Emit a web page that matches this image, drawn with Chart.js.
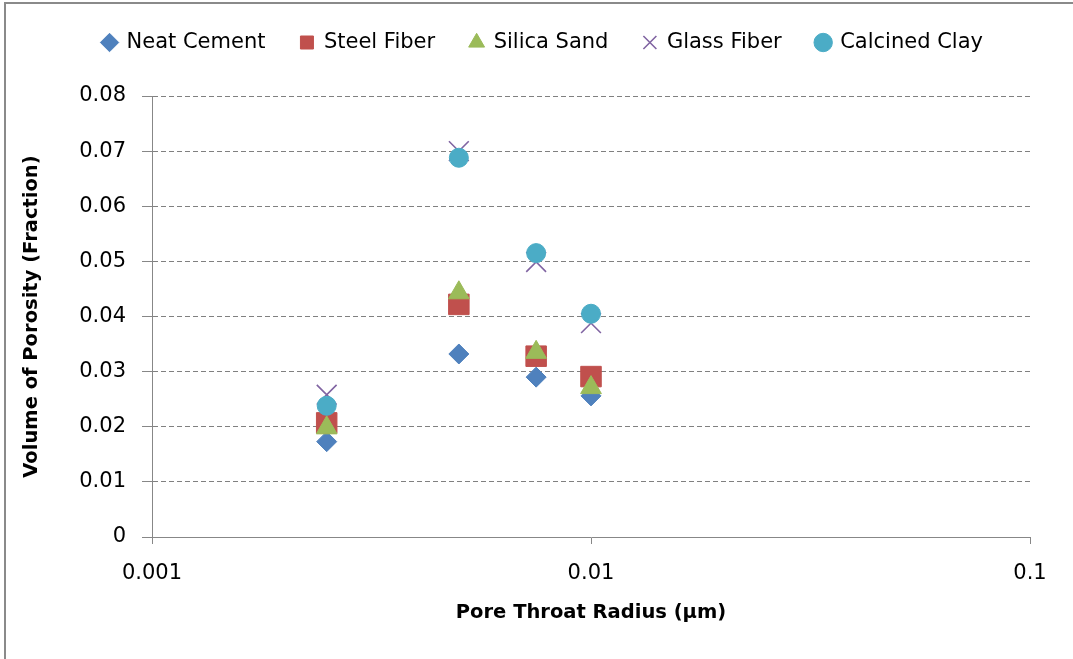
<!DOCTYPE html>
<html>
<head>
<meta charset="utf-8">
<title>Volume of Porosity vs Pore Throat Radius</title>
<script src="https://cdn.jsdelivr.net/npm/chart.js@4.4.1/dist/chart.umd.min.js"></script>
<style>
  html, body { margin: 0; padding: 0; background: #fff; overflow: hidden; }
  #wrap { width: 1073px; height: 659px; position: relative; }
</style>
</head>
<body>
<div id="wrap"><canvas id="chart" width="1073" height="659"></canvas></div>
<script>
// Pore throat radius (µm) shared by every mix
const poreRadius = [0.0025, 0.005, 0.0075, 0.01];

// Volume of porosity (fraction) per mix
const neatCement   = [0.0173, 0.0332, 0.0290, 0.0256];
const steelFiber   = [0.0207, 0.0422, 0.0328, 0.0291];
const silicaSand   = [0.0198, 0.0443, 0.0335, 0.0271];
const glassFiber   = [0.0258, 0.0700, 0.0499, 0.0388];
const calcinedClay = [0.0238, 0.0688, 0.0515, 0.0405];

const seriesNames = ['Neat Cement', 'Steel Fiber', 'Silica Sand', 'Glass Fiber', 'Calcined Clay'];

// Axis ticks
const xTickValues = [0.001, 0.01, 0.1];
const xTickLabels = ['0.001', '0.01', '0.1'];
const yTickValues = [0, 0.01, 0.02, 0.03, 0.04, 0.05, 0.06, 0.07, 0.08];
const yTickLabels = ['0', '0.01', '0.02', '0.03', '0.04', '0.05', '0.06', '0.07', '0.08'];

const FONT = "'DejaVu Sans', 'Liberation Sans', sans-serif";
const axisColor = '#878787';
const gridColor = '#808080';

function pairUp(ys) {
  return poreRadius.map((x, i) => ({ x: x, y: ys[i] }));
}

// White page with the outer frame line along the top and left edges
const framePlugin = {
  id: 'frame',
  beforeDraw(chart) {
    const ctx = chart.ctx;
    ctx.save();
    ctx.fillStyle = '#ffffff';
    ctx.fillRect(0, 0, chart.width, chart.height);
    ctx.strokeStyle = '#8a8a8a';
    ctx.lineWidth = 2;
    ctx.beginPath();
    ctx.moveTo(5, chart.height + 2);
    ctx.lineTo(5, 3);
    ctx.lineTo(chart.width + 2, 3);
    ctx.stroke();
    ctx.restore();
  }
};

// Reserve a fixed band for the legend above the plot area and centre it on the page
const legendBandPlugin = {
  id: 'legendBand',
  afterInit(chart) {
    const lg = chart.legend;
    const baseFit = lg.fit;
    lg.fit = function () {
      baseFit.call(this);
      this.height = 96;
    };
  },
  afterLayout(chart) {
    const lg = chart.legend;
    lg.left = 13;
    lg.right = chart.width;
    lg.top = -3;
  }
};

const datasets = [
  { label: seriesNames[0], data: pairUp(neatCement),   pointStyle: 'rectRot',  pointRadius: 10,  backgroundColor: '#4F81BD', borderColor: '#4F81BD', borderWidth: 1,   order: 5 },
  { label: seriesNames[1], data: pairUp(steelFiber),   pointStyle: 'rect',     pointRadius: 14.5, backgroundColor: '#C0504D', borderColor: '#C0504D', borderWidth: 1,   order: 4 },
  { label: seriesNames[2], data: pairUp(silicaSand),   pointStyle: 'triangle', pointRadius: 12,  backgroundColor: '#9BBB59', borderColor: '#9BBB59', borderWidth: 1,   order: 3 },
  { label: seriesNames[3], data: pairUp(glassFiber),   pointStyle: 'crossRot', pointRadius: 14,  backgroundColor: '#8064A2', borderColor: '#8064A2', borderWidth: 1.6, order: 2 },
  { label: seriesNames[4], data: pairUp(calcinedClay), pointStyle: 'circle',   pointRadius: 9.5, backgroundColor: '#4BACC6', borderColor: '#4BACC6', borderWidth: 1,   order: 1 }
];
datasets.forEach(d => { d.pointHoverRadius = d.pointRadius; d.showLine = false; });

new Chart(document.getElementById('chart'), {
  type: 'scatter',
  data: { datasets: datasets },
  plugins: [framePlugin, legendBandPlugin],
  options: {
    responsive: false,
    animation: false,
    devicePixelRatio: 1,
    layout: { padding: { top: 0, left: 0, right: 43, bottom: 0 } },
    plugins: {
      tooltip: { enabled: false },
      legend: {
        position: 'top',
        align: 'center',
        labels: {
          usePointStyle: true,
          boxWidth: 13,
          boxHeight: 13,
          padding: 35,
          color: '#000',
          font: { family: FONT, size: 21 },
          sort: (a, b) => a.datasetIndex - b.datasetIndex
        }
      }
    },
    scales: {
      x: {
        type: 'logarithmic',
        min: 0.001,
        max: 0.1,
        afterBuildTicks(scale) { scale.ticks = xTickValues.map(v => ({ value: v })); },
        afterFit(scale) { scale.height = 122; },
        ticks: {
          autoSkip: false,
          maxRotation: 0,
          padding: 17,
          color: '#000',
          font: { family: FONT, size: 21 },
          callback: (v, i) => xTickLabels[i]
        },
        grid: { drawOnChartArea: false, drawTicks: true, tickLength: 7, color: axisColor },
        border: { color: axisColor, width: 1 },
        title: {
          display: true,
          text: 'Pore Throat Radius (µm)',
          color: '#000',
          font: { family: FONT, size: 19.5, weight: 'bold' },
          padding: { top: 0, bottom: 34 }
        }
      },
      y: {
        type: 'linear',
        min: 0,
        max: 0.08,
        afterBuildTicks(scale) { scale.ticks = yTickValues.map(v => ({ value: v })); },
        afterFit(scale) { scale.width = 152; },
        ticks: {
          padding: 16,
          color: '#000',
          font: { family: FONT, size: 21 },
          callback: (v, i) => yTickLabels[i]
        },
        grid: { color: gridColor, lineWidth: 1, tickLength: 10, tickColor: axisColor, tickBorderDash: [] },
        border: { color: axisColor, width: 1, dash: [5, 3] },
        title: {
          display: true,
          text: 'Volume of Porosity (Fraction)',
          color: '#000',
          font: { family: FONT, size: 19.5, weight: 'bold' },
          padding: { top: 20, bottom: 0 }
        }
      }
    }
  }
});
</script>
</body>
</html>
